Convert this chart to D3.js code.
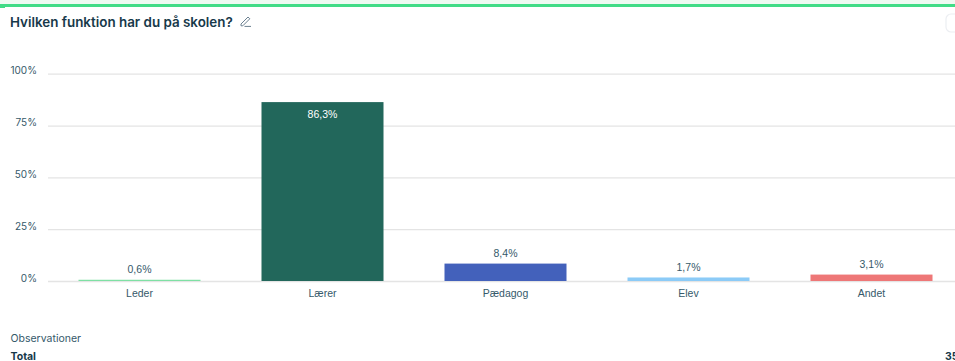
<!DOCTYPE html>
<html>
<head>
<meta charset="utf-8">
<script src="https://cdn.jsdelivr.net/npm/d3@7/dist/d3.min.js"></script>
<style>
  html, body { margin: 0; padding: 0; background: #fff; overflow: hidden; }
  svg { display: block; }
</style>
</head>
<body>
<script>
// Survey result: share of respondents per school role
const categories = ["Leder", "Lærer", "Pædagog", "Elev", "Andet"];
const shares = [0.6, 86.3, 8.4, 1.7, 3.1];
const shareLabels = ["0,6%", "86,3%", "8,4%", "1,7%", "3,1%"];
const barColors = ["#7fe0a4", "#22675b", "#4361bb", "#8ccbf7", "#ee7777"];
const yTicks = [0, 25, 50, 75, 100];
const title = "Hvilken funktion har du på skolen?";
const footerHeading = "Observationer";
const footerRow = "Total";
const footerTotal = "351";

const width = 955, height = 361;
const svg = d3.select("body").append("svg").attr("width", width).attr("height", height);

const x = d3.scaleBand().domain(categories).range([48, 963]).paddingInner(1 / 3).paddingOuter(1 / 6);
const y = d3.scaleLinear().domain([0, 100]).range([281, 73.7]);

const inter = "Inter, 'Noto Sans', sans-serif";
const arial = "'Liberation Sans', Arial, sans-serif";
const bodyText = "#35596a";

// Card edge along the top
svg.append("rect").attr("width", width).attr("height", 4).attr("fill", "#eefaf2");
svg.append("rect").attr("y", 4).attr("width", width).attr("height", 3).attr("fill", "#41dc87");
svg.append("rect").attr("y", 7).attr("width", 5).attr("height", 1).attr("fill", "#41dc87");

// Toolbar button, cut off by the right edge
svg.append("rect").attr("x", 946).attr("y", 14).attr("width", 30).attr("height", 18).attr("rx", 5)
  .attr("fill", "#fff").attr("stroke", "#eceef2").attr("stroke-width", 1.2);

svg.append("text").attr("x", 10).attr("y", 26.5)
  .attr("font-family", inter).attr("font-size", 13.4).attr("font-weight", 600).attr("fill", "#17394a")
  .text(title);

// Edit pencil next to the heading
const pencil = svg.append("g").attr("transform", "translate(240,16)")
  .attr("fill", "none").attr("stroke", "#6b8090").attr("stroke-width", 1);
pencil.append("path").attr("d", "M1 8 L1 9.8 L2.8 9.8 L9.8 2.8 L8 1 Z");
pencil.append("path").attr("d", "M4.5 10.4 L11 10.4");

// Gridlines and value axis; tick labels sit slightly above their lines
svg.append("g").attr("transform", "translate(48,0)")
  .call(d3.axisLeft(y).tickValues(yTicks).tickSize(-(width - 48)).tickPadding(11).tickFormat(d => d + "%"))
  .call(g => g.select(".domain").remove())
  .call(g => g.selectAll(".tick line").attr("stroke", "#e4e4e4").attr("stroke-width", d => d === 0 ? 1.6 : 1.2))
  .call(g => g.selectAll(".tick text").attr("font-family", inter).attr("font-size", 10).attr("fill", bodyText).attr("dy", "0.32em").attr("transform", "translate(0,-3)"));

// Bars
svg.append("g").selectAll("rect").data(categories).join("rect")
  .attr("x", d => x(d))
  .attr("width", x.bandwidth())
  .attr("y", (d, i) => y(shares[i]))
  .attr("height", (d, i) => y(0) - y(shares[i]))
  .attr("fill", (d, i) => barColors[i]);

// Value labels: inside the tall bar, above the others
svg.append("g").selectAll("text").data(categories).join("text")
  .attr("x", d => x(d) + x.bandwidth() / 2)
  .attr("y", (d, i) => shares[i] > 50 ? y(shares[i]) + 16 : y(shares[i]) - 6.5)
  .attr("text-anchor", "middle")
  .attr("font-family", arial).attr("font-size", 10.5)
  .attr("fill", (d, i) => shares[i] > 50 ? "#ffffff" : bodyText)
  .text((d, i) => shareLabels[i]);

// Category labels
svg.append("g").attr("transform", "translate(0,281)")
  .call(d3.axisBottom(x).tickSize(0).tickPadding(9))
  .call(g => g.select(".domain").remove())
  .call(g => g.selectAll(".tick text").attr("font-family", arial).attr("font-size", 10.5).attr("fill", bodyText));

// Observation footer
svg.append("text").attr("x", 10.5).attr("y", 341.5)
  .attr("font-family", inter).attr("font-size", 10.5).attr("fill", bodyText).text(footerHeading);
svg.append("text").attr("x", 10.5).attr("y", 359.5)
  .attr("font-family", inter).attr("font-size", 10.5).attr("font-weight", 700).attr("fill", "#17394a").text(footerRow);
svg.append("text").attr("x", 945).attr("y", 359.5)
  .attr("font-family", inter).attr("font-size", 10.5).attr("font-weight", 700).attr("fill", "#17394a").text(footerTotal);
</script>
</body>
</html>
